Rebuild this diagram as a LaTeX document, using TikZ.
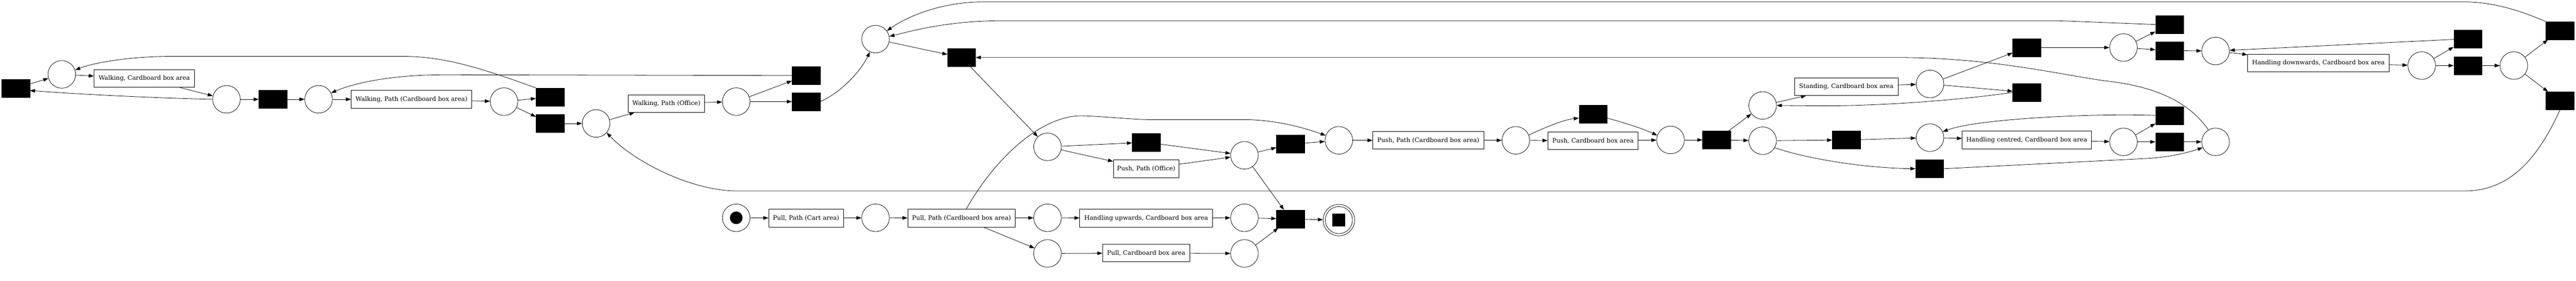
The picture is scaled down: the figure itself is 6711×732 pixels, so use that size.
\documentclass[tikz,border=0pt]{standalone}
\usepackage{fontspec}
\setmainfont{DejaVu Serif}
\usetikzlibrary{arrows.meta}
\begin{document}
\begin{tikzpicture}[x=0.75pt,y=-0.75pt,
 place/.style={circle,draw,line width=0.8pt,minimum size=54pt,inner sep=0pt},
 trans/.style={rectangle,fill=black,draw=black,minimum width=54.75pt,minimum height=35.25pt,inner sep=0pt},
 act/.style={rectangle,draw,line width=0.8pt,minimum height=34.5pt,minimum width=0.75pt*#1,inner sep=0pt,font=\fontsize{12}{14}\selectfont},
 arc/.style={-{Triangle[length=10pt,width=7pt]},line width=0.8pt}]
\useasboundingbox (0,0) rectangle (6711,732);
% nodes
\node[trans] (T1) at (41,230) {};
\node[place] (P1) at (161,194) {};
\node[act=262] (WalkCB) at (376,205) {Walking, Cardboard box area};
\node[place] (P2) at (590,259) {};
\node[trans] (T2) at (711,259) {};
\node[place] (P3) at (830,259) {};
\node[act=314] (WalkPathCB) at (1072,259) {Walking, Path (Cardboard box area)};
\node[place] (P4) at (1313,265) {};
\node[trans] (T3) at (1433,253) {};
\node[trans] (T4) at (1433,322) {};
\node[place] (P5) at (1553,322) {};
\node[act=198] (WalkPathOff) at (1736,270) {Walking, Path (Office)};
\node[place] (P6) at (1918,265) {};
\node[trans] (Ta) at (2100,197) {};
\node[trans] (Tc) at (2100,265) {};
\node[place] (P7) at (2281,102) {};
\node[trans] (Td) at (2505,150) {};
\node[place] (P8) at (2729,383) {};
\node[place] (Src) at (1918,568) {};
\node[circle,fill=black,minimum size=24.75pt,inner sep=0pt] (SrcTok) at (Src) {};
\node[act=195] (PullPathCart) at (2100,569) {Pull, Path (Cart area)};
\node[place] (P9) at (2281,568) {};
\node[act=280] (PullPathCB) at (2505,569) {Pull, Path (Cardboard box area)};
\node[place] (P10) at (2729,568) {};
\node[place] (P11) at (2729,661) {};
\node[trans] (Te) at (2986,371) {};
\node[act=171] (PushPathOff) at (2986,440) {Push, Path (Office)};
\node[place] (P13) at (3242,405) {};
\node[trans] (Tf) at (3362,376) {};
\node[act=346] (HandUp) at (2986,569) {Handling upwards, Cardboard box area};
\node[place] (P14) at (3242,568) {};
\node[act=227] (PullCB) at (2986,660) {Pull, Cardboard box area};
\node[place] (P15) at (3242,661) {};
\node[trans] (Tend) at (3362,571) {};
\node[circle,draw,line width=0.8pt,minimum size=61.5pt,inner sep=0pt] (Final) at (3488,574) {};
\node[circle,draw,line width=0.8pt,minimum size=53pt,inner sep=0pt] (FinalIn) at (Final) {};
\node[fill=black,minimum size=24.75pt,inner sep=0pt] (FinalSq) at (Final) {};
\node[place] (P12) at (3488,366) {};
\node[act=289] (PushPathCB) at (3721,366) {Push, Path (Cardboard box area)};
\node[place] (P16) at (3949,366) {};
\node[act=235] (PushCB) at (4150,367) {Push, Cardboard box area};
\node[trans] (Tg) at (4150,298) {};
\node[place] (P17) at (4352,365) {};
\node[trans] (Th) at (4472,365) {};
\node[place] (P18) at (4592,275) {};
\node[place] (P19) at (4592,367) {};
\node[act=269] (StandCB) at (4810,226) {Standing, Cardboard box area};
\node[trans] (Tj) at (4810,365) {};
\node[trans] (Tk) at (5027,440) {};
\node[place] (P20) at (5028,219) {};
\node[trans] (Tl) at (5280,124) {};
\node[trans] (Ti) at (5280,241) {};
\node[place] (P21) at (5028,359) {};
\node[act=336] (HandCent) at (5280,365) {Handling centred, Cardboard box area};
\node[place] (P23) at (5532,124) {};
\node[place] (P25) at (5532,370) {};
\node[trans] (Tn) at (5652,64) {};
\node[trans] (Tp) at (5652,132) {};
\node[trans] (Tm) at (5652,301) {};
\node[trans] (Tr) at (5652,370) {};
\node[place] (P24) at (5772,133) {};
\node[place] (P22) at (5772,370) {};
\node[act=369] (HandDown) at (6040,164) {Handling downwards, Cardboard box area};
\node[place] (P26) at (6309,171) {};
\node[trans] (Tq) at (6429,101) {};
\node[trans] (Ts) at (6429,171) {};
\node[place] (P27) at (6549,171) {};
\node[trans] (To) at (6669,80) {};
\node[trans] (Tt) at (6669,263) {};
% edges
\draw[arc] (T1) -- (P1);
\draw[arc] (P1) -- (WalkCB);
\draw[arc] (WalkCB) -- (P2);
\draw[arc] (P2.west) .. controls (420,256) and (220,247) .. ([yshift=-4.5pt]T1.east);
\draw[arc] (P2) -- (T2);
\draw[arc] (T2) -- (P3);
\draw[arc] (P3) -- (WalkPathCB);
\draw[arc] (WalkPathCB) -- (P4);
\draw[arc] (P4) -- (T3);
\draw[arc] (P4) -- (T4);
\draw[arc] (T3.north west) .. controls (1260,180) and (1160,147) .. (1050,147) -- (450,147) .. controls (330,147) and (240,165) .. (P1.18);
\draw[arc] (T4) -- (P5);
\draw[arc] (P5) -- (WalkPathOff);
\draw[arc] (WalkPathOff) -- (P6);
\draw[arc] (P6) -- (Ta);
\draw[arc] (P6) -- (Tc);
\draw[arc] (Ta.west) -- (1160,195) .. controls (1000,195) and (910,222) .. (P3.27);
\draw[arc] (Tc.east) .. controls (2185,245) and (2240,190) .. (P7.-114);
\draw[arc] (P7) -- (Td);
\draw[arc] (Td) -- (P8);
\draw[arc] (Src) -- (PullPathCart);
\draw[arc] (PullPathCart) -- (P9);
\draw[arc] (P9) -- (PullPathCB);
\draw[arc] (PullPathCB) -- (P10);
\draw[arc] (PullPathCB) -- (P11);
\draw[arc] ([xshift=9pt]PullPathCB.north) .. controls (2600,400) and (2720,300) .. (2820,302) .. controls (2900,305) and (2950,312) .. (3000,312) -- (3250,312) .. controls (3330,314) and (3400,334) .. (P12.160);
\draw[arc] (P8) -- (Te);
\draw[arc] (P8) -- (PushPathOff);
\draw[arc] (Te) -- (P13);
\draw[arc] (PushPathOff) -- (P13);
\draw[arc] (P13) -- (Tf);
\draw[arc] (P13) -- (Tend);
\draw[arc] (Tf) -- (P12);
\draw[arc] (P10) -- (HandUp);
\draw[arc] (HandUp) -- (P14);
\draw[arc] (P14) -- (Tend);
\draw[arc] (P11) -- (PullCB);
\draw[arc] (PullCB) -- (P15);
\draw[arc] (P15) -- (Tend);
\draw[arc] (Tend) -- (Final);
\draw[arc] (P12) -- (PushPathCB);
\draw[arc] (PushPathCB) -- (P16);
\draw[arc] (P16) -- (PushCB);
\draw[arc] (PushCB) -- (P17);
\draw[arc] (P16.22) .. controls (4030,330) and (4075,312) .. ([yshift=-7.5pt]Tg.west);
\draw[arc] ([yshift=-7.5pt]Tg.east) .. controls (4250,325) and (4290,340) .. (P17.161);
\draw[arc] (P17) -- (Th);
\draw[arc] (Th) -- (P18);
\draw[arc] (Th) -- (P19);
\draw[arc] (P18) -- (StandCB);
\draw[arc] (StandCB) -- (P20);
\draw[arc] (P20) -- (Tl);
\draw[arc] (P20) -- (Ti);
\draw[arc] (Ti.west) .. controls (5100,262) and (4900,276) .. (4750,276) -- (P18.east);
\draw[arc] (P19) -- (Tj);
\draw[arc] (Tj) -- (P21);
\draw[arc] (P19.-30) .. controls (4700,412) and (4850,438) .. (Tk.west);
\draw[arc] (Tk.east) -- (5580,414) .. controls (5650,411) and (5700,398) .. (P22.204);
\draw[arc] (P21) -- (HandCent);
\draw[arc] (HandCent) -- (P25);
\draw[arc] (P25) -- (Tm);
\draw[arc] (P25) -- (Tr);
\draw[arc] (Tr) -- (P22);
\draw[arc] (Tm.west) .. controls (5450,295) and (5150,310) .. (P21.25);
\draw[arc] (Tl) -- (P23);
\draw[arc] (P23) -- (Tn);
\draw[arc] (P23) -- (Tp);
\draw[arc] (Tp) -- (P24);
\draw[arc] (Tq) -- (P24);
\draw[arc] (P24) -- (HandDown);
\draw[arc] (HandDown) -- (P26);
\draw[arc] (P26) -- (Tq);
\draw[arc] (P26) -- (Ts);
\draw[arc] (Ts) -- (P27);
\draw[arc] (P27) -- (To);
\draw[arc] (P27) -- (Tt);
\draw[arc] (Tn.west) -- (5360,54) -- (2600,54) .. controls (2460,56) and (2370,82) .. (P7.11);
\draw[arc] (To.north west) .. controls (6560,25) and (6490,5) .. (6420,5) -- (2560,5) .. controls (2450,5) and (2360,45) .. (P7.36);
\draw[arc] (P22.121) .. controls (5700,262) and (5610,226) .. (5494,212) .. controls (5380,198) and (5200,151) .. (4950,150) -- (Td.east);
\draw[arc] (Tt.south) .. controls (6600,440) and (6520,498) .. (6420,498) -- (1920,498) .. controls (1800,498) and (1650,420) .. (P5.-41);
\end{tikzpicture}
\end{document}
